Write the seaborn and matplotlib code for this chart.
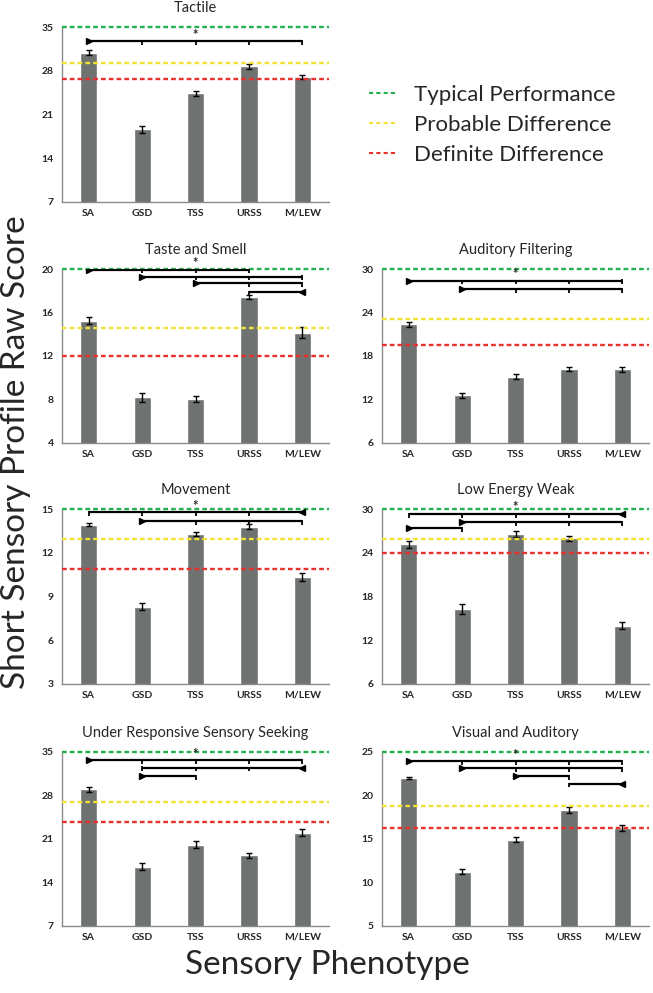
import numpy as np
import pandas as pd
import matplotlib
matplotlib.use("Agg")
import matplotlib.pyplot as plt
from matplotlib.lines import Line2D
import seaborn as sns

# Datos
groups = ["SA", "GSD", "TSS", "URSS", "M/LEW"]

tactile_mean = [30.9, 18.6, 24.4, 28.7, 27.0]
tactile_err = [0.35, 0.5, 0.4, 0.35, 0.4]
taste_mean = [15.25, 8.2, 8.05, 17.4, 14.15]
taste_err = [0.35, 0.4, 0.3, 0.2, 0.5]
auditory_mean = [22.35, 12.6, 15.15, 16.2, 16.15]
auditory_err = [0.3, 0.35, 0.35, 0.3, 0.4]
movement_mean = [13.93, 8.31, 13.29, 13.79, 10.34]
movement_err = [0.12, 0.25, 0.15, 0.17, 0.27]
lew_mean = [25.16, 16.3, 26.6, 26.0, 14.0]
lew_err = [0.45, 0.65, 0.4, 0.35, 0.45]
ursss_mean = [29.0, 16.55, 20.1, 18.4, 22.0]
ursss_err = [0.4, 0.55, 0.5, 0.4, 0.55]
visual_mean = [22.0, 11.25, 14.92, 18.33, 16.3]
visual_err = [0.15, 0.3, 0.3, 0.3, 0.35]

# Puntos de corte: typical, probable, definite
tactile_cut = [35, 29.3, 26.6]
taste_cut = [20, 14.6, 12.0]
auditory_cut = [30, 23.1, 19.5]
movement_cut = [15, 12.95, 10.9]
lew_cut = [30, 25.9, 23.95]
ursss_cut = [35, 26.9, 23.7]
visual_cut = [25, 18.75, 16.25]

# Comparaciones significativas: (desde, hasta, nivel, lado del triángulo)
tactile_sig = [(0, 4, 32.7, "L")]
taste_sig = [(0, 3, 19.95, "L"), (1, 4, 19.3, "L"), (2, 4, 18.7, "L"), (3, 4, 17.9, "R")]
auditory_sig = [(0, 4, 28.4, "L"), (1, 4, 27.2, "L")]
movement_sig = [(0, 4, 14.77, "R"), (1, 4, 14.2, "L")]
lew_sig = [(0, 4, 29.36, "R"), (1, 4, 28.17, "L"), (0, 1, 27.35, "L")]
ursss_sig = [(0, 4, 33.66, "L"), (1, 4, 32.5, "R"), (1, 2, 31.1, "L")]
visual_sig = [(0, 4, 23.93, "L"), (1, 4, 23.16, "L"), (2, 3, 22.24, "L"), (3, 4, 21.36, "R")]

panels = [
    ("Tactile", tactile_mean, tactile_err, tactile_cut, tactile_sig, (7, 35, 7)),
    ("Taste and Smell", taste_mean, taste_err, taste_cut, taste_sig, (4, 20, 4)),
    ("Auditory Filtering", auditory_mean, auditory_err, auditory_cut, auditory_sig, (6, 30, 6)),
    ("Movement", movement_mean, movement_err, movement_cut, movement_sig, (3, 15, 3)),
    ("Low Energy Weak", lew_mean, lew_err, lew_cut, lew_sig, (6, 30, 6)),
    ("Under Responsive Sensory Seeking", ursss_mean, ursss_err, ursss_cut, ursss_sig, (7, 35, 7)),
    ("Visual and Auditory", visual_mean, visual_err, visual_cut, visual_sig, (5, 25, 5)),
]

legend_labels = ["Typical Performance", "Probable Difference", "Definite Difference"]
cut_colors = ["#22b14c", "#f2e233", "#e8312b"]
bar_color = "#6e7270"

sns.set_style("white")
plt.rcParams["font.family"] = ["Lato", "DejaVu Sans"]

fig = plt.figure(figsize=(6.53, 9.93), dpi=100)

col_left = [0.095, 0.585]
width = 0.409
rows = [(0.7966, 0.1762), (0.5539, 0.1752), (0.3112, 0.1762), (0.0675, 0.1752)]
slots = [(0, 0), (1, 0), (1, 1), (2, 0), (2, 1), (3, 0), (3, 1)]

for (title, mean, err, cut, sig, yr), (r, c) in zip(panels, slots):
    ax = fig.add_axes([col_left[c], rows[r][0], width, rows[r][1]])
    df = pd.DataFrame({"group": groups, "score": mean})
    sns.barplot(data=df, x="group", y="score", color=bar_color, saturation=1,
                width=0.32, errorbar=None, ax=ax)
    ax.errorbar(np.arange(len(groups)), mean, yerr=err, fmt="none",
                ecolor="black", elinewidth=1, capsize=2, capthick=1)
    ymin, ymax, step = yr
    for val, col in zip(cut, cut_colors):
        ax.axhline(val, color=col, lw=1.7, ls=(0, (2, 1.3)), clip_on=False, zorder=3)
    d = (ymax - ymin) * 0.022
    for (a, b, lvl, side) in sig:
        ax.plot([a, b], [lvl, lvl], color="black", lw=1.6, solid_capstyle="butt", zorder=4)
        if side == "L":
            ax.plot(a, lvl, marker=">", color="black", ms=5, zorder=5)
            ax.vlines(b, lvl - d, lvl + d * 0.3, color="black", lw=1.3, zorder=4)
        else:
            ax.plot(b, lvl, marker="<", color="black", ms=5, zorder=5)
            ax.vlines(a, lvl - d, lvl + d * 0.3, color="black", lw=1.3, zorder=4)
        for k in range(a + 1, b):
            ax.vlines(k, lvl - d, lvl, color="black", lw=1.3, zorder=4)
    top = max(s[2] for s in sig)
    ax.text(2, top + d * 0.1, "*", ha="center", va="bottom", fontsize=9.5, fontweight="bold")
    ax.set_xlim(-0.5, 4.5)
    ax.set_ylim(ymin, ymax)
    ax.set_yticks(np.arange(ymin, ymax + 0.1, step))
    ax.set_xlabel("")
    ax.set_ylabel("")
    ax.set_title(title, fontsize=10.5, pad=11)
    ax.tick_params(axis="both", length=0, labelsize=7.5, pad=6)
    for lab in ax.get_yticklabels() + ax.get_xticklabels():
        lab.set_fontweight("bold")
    ax.tick_params(axis="x", pad=5)
    sns.despine(ax=ax)
    for s in ["left", "bottom"]:
        ax.spines[s].set_color("#8a8a8a")
        ax.spines[s].set_linewidth(1)

handles = [Line2D([0], [0], color=col, lw=1.5, ls=(0, (2, 1.5))) for col in cut_colors]
fig.legend(handles, legend_labels, loc="upper left", bbox_to_anchor=(0.535, 0.935),
           frameon=False, fontsize=16, handlelength=1.2, handletextpad=0.8,
           labelspacing=0.45)

fig.text(0.024, 0.545, "Short Sensory Profile Raw Score", rotation=90,
         ha="center", va="center", fontsize=24)
fig.text(0.502, 0.028, "Sensory Phenotype", ha="center", va="center", fontsize=24)

fig.savefig("out.png", dpi=100)
